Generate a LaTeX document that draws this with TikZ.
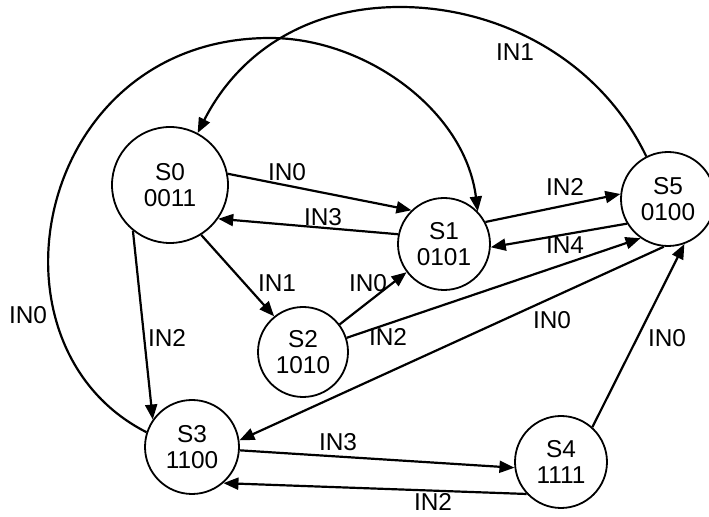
\documentclass[tikz,border=0pt]{standalone}
\usepackage{fontspec}
\setmainfont{Liberation Sans}
\usetikzlibrary{arrows.meta}

\tikzset{
  state/.style={circle,draw,line width=0.9pt,inner sep=0pt,minimum size=47pt,align=center,font=\fontsize{12.2}{12.8}\selectfont},
  arr/.style={line width=1.1pt,-{Triangle[length=7.5pt,width=6pt]}},
  lbl/.style={inner sep=0.75pt,font=\fontsize{12.2}{12.8}\selectfont}
}

\begin{document}
\begin{tikzpicture}[x=0.5pt,y=0.5pt,yscale=-1,xscale=1]
\useasboundingbox (0,0) rectangle (709,517);

%Shape: Circle [S0]
\node[state,minimum size=58pt] (S0) at (170,185) {S0\\0011};
%Shape: Circle [S1]
\node[state,minimum size=46pt] (S1) at (444,244) {S1\\0101};
%Shape: Circle [S2]
\node[state,minimum size=45pt] (S2) at (303,352) {S2\\1010};
%Shape: Circle [S3]
\node[state] (S3) at (192,447) {S3\\1100};
%Shape: Circle [S4]
\node[state,minimum size=46pt] (S4) at (561,462) {S4\\1111};
%Shape: Circle [S5]
\node[state] (S5) at (668,199) {S5\\0100};

%Straight Lines [S0 -> S1]
\draw[arr] (S0.11) -- (S1.134);
%Straight Lines [S1 -> S0]
\draw[arr] (S1.168) -- (S0.-35);
%Straight Lines [S0 -> S2]
\draw[arr] (S0.-58) -- (S2.129);
%Straight Lines [S2 -> S1]
\draw[arr] (S2.37) -- (S1.217);
%Straight Lines [S2 -> S5]
\draw[arr] (S2.18) -- (S5.235);
%Straight Lines [S5 -> S3]
\draw[arr] (S5.-95) -- (S3.8);
%Straight Lines [S1 -> S5]
\draw[arr] (S1.28) -- (S5.174);
%Straight Lines [S5 -> S1]
\draw[arr] (S5.211) -- (S1.-4);
%Straight Lines [S0 -> S3]
\draw[arr] (S0.231) -- (S3.145);
%Straight Lines [S3 -> S4]
\draw[arr] (S3.-4) -- (S4.187);
%Straight Lines [S4 -> S3]
\draw[arr] (S4.223) -- (S3.-49);
%Straight Lines [S4 -> S5]
\draw[arr] (S4.48) -- (S5.-70);
%Curve Lines [S5 -> S0]
\draw[arr] (S5.117) .. controls (600,60) and (500,7) .. (400,7) .. controls (310,7) and (240,50) .. (S0.62);
%Curve Lines [S3 -> S1]
\draw[arr] (S3.162) .. controls (-25,345) and (35,38) .. (270,38) .. controls (365,38) and (465,110) .. (S1.44);

% Text Node
\node[lbl] (l01) at (287,172) {IN0};
% Text Node
\node[lbl] (l10) at (323,217) {IN3};
% Text Node
\node[lbl] (l02) at (277,283) {IN1};
% Text Node
\node[lbl] (l21) at (368,283) {IN0};
% Text Node
\node[lbl] (l25) at (388,337) {IN2};
% Text Node
\node[lbl] (l53) at (552,320) {IN0};
% Text Node
\node[lbl] (l15) at (565,187) {IN2};
% Text Node
\node[lbl] (l51) at (565,245) {IN4};
% Text Node
\node[lbl] (l03) at (167,338) {IN2};
% Text Node
\node[lbl] (l34) at (338,442) {IN3};
% Text Node
\node[lbl] (l43) at (433,502) {IN2};
% Text Node
\node[lbl] (l45) at (667,338) {IN0};
% Text Node
\node[lbl] (l50) at (515,52) {IN1};
% Text Node
\node[lbl] (l31) at (28,315) {IN0};

\end{tikzpicture}
\end{document}
